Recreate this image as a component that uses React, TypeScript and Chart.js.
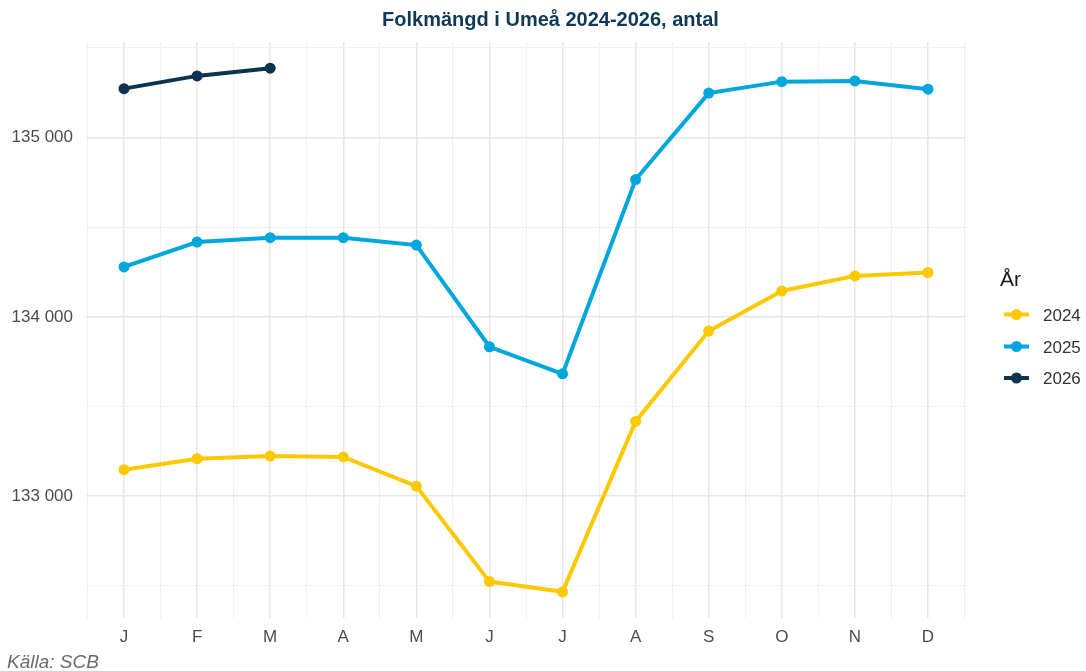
import React, { useEffect, useRef } from "react";
import { Chart, registerables } from "chart.js";

Chart.register(...registerables);

const monthLabels = ["J", "F", "M", "A", "M", "J", "J", "A", "S", "O", "N", "D"];
const values2024 = [133148, 133209, 133224, 133219, 133056, 132524, 132467, 133417, 133921, 134144, 134228, 134247];
const values2025 = [134278, 134417, 134441, 134441, 134400, 133833, 133682, 134765, 135247, 135311, 135315, 135269];
const values2026 = [135272, 135343, 135386];
const seriesNames = ["2024", "2025", "2026"];
const seriesColors = ["#fcc900", "#00a6dc", "#0c3450"];
const yTicks = [132500, 133000, 133500, 134000, 134500, 135000, 135500];

const TITLE = "Folkmängd i Umeå 2024-2026, antal";
const CAPTION = "Källa: SCB";
const LEGEND_TITLE = "År";
const FONT = "'Liberation Sans', Arial, sans-serif";

const fmt = (v: number) => {
  const s = Math.round(v).toString();
  return s.replace(/\B(?=(\d{3})+(?!\d))/g, " ");
};

const allVals = [...values2024, ...values2025, ...values2026];
const dMin = Math.min(...allVals);
const dMax = Math.max(...allVals);
const pad = (dMax - dMin) * 0.05;

const decorPlugin = {
  id: "decor",
  afterDraw(chart: any) {
    const ctx = chart.ctx;
    ctx.save();
    // title
    ctx.font = `bold 20px ${FONT}`;
    ctx.fillStyle = "#0e3a58";
    ctx.textAlign = "center";
    ctx.textBaseline = "alphabetic";
    ctx.fillText(TITLE, 550.5, 26);
    // caption
    ctx.font = `italic 19px ${FONT}`;
    ctx.fillStyle = "#6b6b6b";
    ctx.textAlign = "left";
    ctx.textBaseline = "alphabetic";
    ctx.fillText(CAPTION, 7, 668);
    // legend
    ctx.font = `21px ${FONT}`;
    ctx.fillStyle = "#1a1a1a";
    ctx.fillText(LEGEND_TITLE, 1000, 286);
    const ys = [314.5, 346.5, 378];
    seriesNames.forEach((name, i) => {
      const y = ys[i];
      ctx.strokeStyle = seriesColors[i];
      ctx.lineWidth = 4;
      ctx.beginPath();
      ctx.moveTo(1004, y);
      ctx.lineTo(1029, y);
      ctx.stroke();
      ctx.fillStyle = seriesColors[i];
      ctx.beginPath();
      ctx.arc(1016.5, y, 5.5, 0, Math.PI * 2);
      ctx.fill();
      ctx.font = `17px ${FONT}`;
      ctx.fillStyle = "#333333";
      ctx.textBaseline = "alphabetic";
      ctx.fillText(name, 1043, y + 6);
    });
    ctx.restore();
  },
};

export default function App() {
  const ref = useRef<HTMLCanvasElement>(null);
  useEffect(() => {
    if (!ref.current) return;
    const mk = (vals: number[]) => vals.map((v, i) => ({ x: i + 1, y: v }));
    const series = [values2024, values2025, values2026];
    const chart = new Chart(ref.current, {
      type: "line",
      data: {
        datasets: series.map((vals, i) => ({
          label: seriesNames[i],
          data: mk(vals),
          borderColor: seriesColors[i],
          backgroundColor: seriesColors[i],
          borderWidth: 4,
          pointRadius: 5.5,
          pointHoverRadius: 5.5,
          pointBorderWidth: 0,
          tension: 0,
        })),
      },
      options: {
        animation: false,
        responsive: false,
        maintainAspectRatio: false,
        layout: { padding: { left: 0, right: 120, top: 42, bottom: 0 } },
        plugins: {
          legend: { display: false },
          title: { display: false },
          tooltip: { enabled: false },
        },
        scales: {
          x: {
            type: "linear",
            min: 0.48,
            max: 12.52,
            border: { display: false },
            afterBuildTicks: (scale: any) => {
              const t = [];
              for (let v = 0.5; v <= 12.5; v += 0.5) t.push({ value: v });
              scale.ticks = t;
            },
            afterFit: (scale: any) => {
              scale.height = 53;
            },
            grid: {
              drawTicks: false,
              color: (c: any) => (Number.isInteger(c.tick?.value) ? "#e6e6e6" : "#eeeeee"),
              lineWidth: (c: any) => (Number.isInteger(c.tick?.value) ? 1.5 : 0.9),
            },
            ticks: {
              autoSkip: false,
              maxRotation: 0,
              padding: 9,
              color: "#4d4d4d",
              font: { family: FONT, size: 17 },
              callback: (v: any) => (Number.isInteger(v) ? monthLabels[v - 1] : ""),
            },
          },
          y: {
            type: "linear",
            min: dMin - pad,
            max: dMax + pad,
            border: { display: false },
            afterBuildTicks: (scale: any) => {
              scale.ticks = yTicks.map((v) => ({ value: v }));
            },
            afterFit: (scale: any) => {
              scale.width = 86;
            },
            grid: {
              drawTicks: false,
              color: (c: any) => (c.tick?.value % 1000 === 0 ? "#e6e6e6" : "#eeeeee"),
              lineWidth: (c: any) => (c.tick?.value % 1000 === 0 ? 1.5 : 0.9),
            },
            ticks: {
              padding: 13,
              color: "#4d4d4d",
              font: { family: FONT, size: 17 },
              callback: (v: any) => (v % 1000 === 0 ? fmt(v) : ""),
            },
          },
        },
      },
      plugins: [decorPlugin],
    } as any);
    return () => chart.destroy();
  }, []);
  return (
    <div style={{ position: "absolute", left: 0, top: 0, width: 1086, height: 671, background: "#ffffff" }}>
      <canvas ref={ref} width={1086} height={671} style={{ display: "block" }} />
    </div>
  );
}
